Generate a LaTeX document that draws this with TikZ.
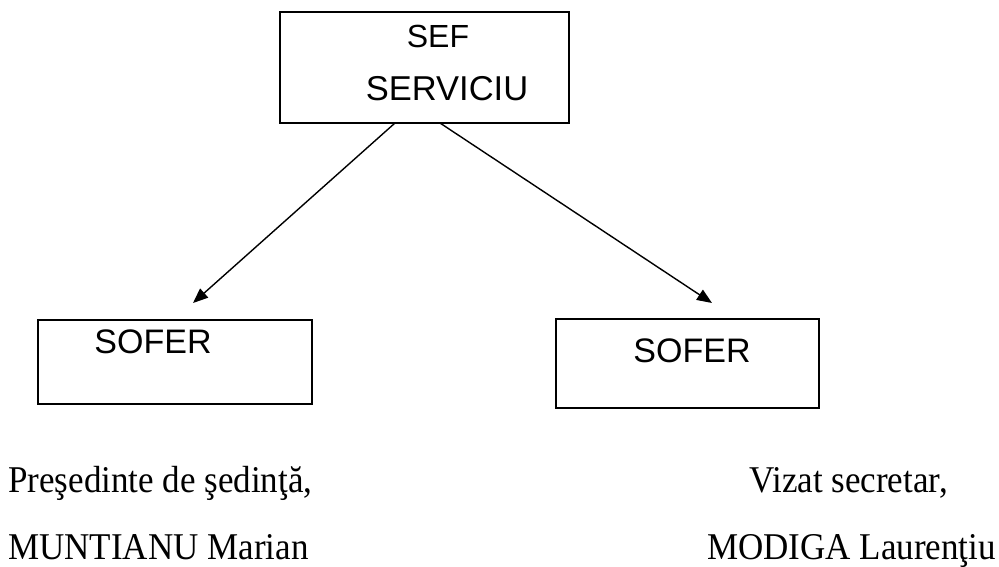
\documentclass[tikz,border=0pt]{standalone}
\usepackage{fontspec}
\setmainfont{Liberation Serif}
\newfontfamily\arialfont{Liberation Sans}
\usetikzlibrary{arrows.meta}
\tikzset{
  box/.style={draw, line width=1.8pt, rectangle, inner sep=0pt},
  boxtext/.style={font=\arialfont\fontsize{34}{38}\selectfont, anchor=base, inner sep=0pt},
  signtext/.style={font=\fontsize{35}{40}\selectfont, anchor=base west, inner sep=0pt},
  link/.style={line width=1.4pt, -{Triangle[length=15pt,width=12pt]}}
}
\begin{document}
\begin{tikzpicture}[x=1pt,y=-1pt]
\useasboundingbox (0,0) rectangle (999,566);
% boxes
\node[box, minimum width=289pt, minimum height=111pt] (top) at (424.5,67.5) {};
\node[box, minimum width=274pt, minimum height=84pt] (left) at (175,362) {};
\node[box, minimum width=263pt, minimum height=89pt] (right) at (687.5,363.5) {};
% box texts
\node[boxtext, font=\arialfont\fontsize{32}{36}\selectfont] (t1) at (438,47) {SEF};
\node[boxtext, font=\arialfont\fontsize{34.5}{38}\selectfont] (t2) at (447,100) {SERVICIU};
\node[boxtext] (t3) at (153,353) {SOFER};
\node[boxtext] (t4) at (692,362) {SOFER};
% connectors
\coordinate (a1) at (395,123);
\coordinate (a2) at (440,123);
\coordinate (e1) at (193,303);
\coordinate (e2) at (712,303);
\draw[link] (a1) -- (e1);
\draw[link] (a2) -- (e2);
% signatures
\node[signtext] (s1) at (8,492) {\scalebox{1}[1.08]{Preşedinte de şedinţă,}};
\node[signtext] (s2) at (8,559) {\scalebox{1}[1.08]{MUNTIANU Marian}};
\node[signtext] (s3) at (749,492) {\scalebox{1}[1.08]{Vizat secretar,}};
\node[signtext] (s4) at (707,559) {\scalebox{1}[1.08]{MODIGA Laurenţiu}};
\end{tikzpicture}
\end{document}
